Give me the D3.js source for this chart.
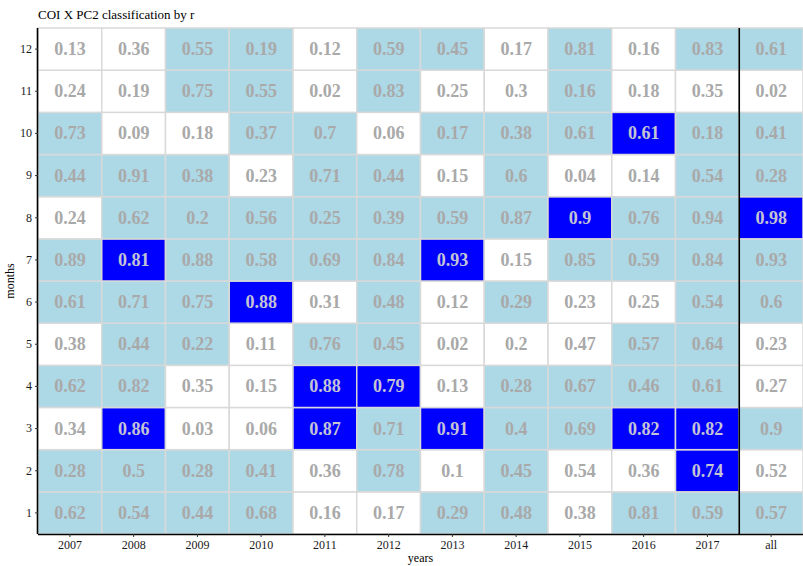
<!DOCTYPE html>
<html><head><meta charset="utf-8">
<script src="https://cdn.jsdelivr.net/npm/d3@7"></script>
<style>body{margin:0;background:#fff;} svg{display:block;} svg text{font-family:"Liberation Serif","Times New Roman",Times,serif;}</style>
</head><body><svg id="c" width="803" height="566"></svg>
<script>
const years = ["2007","2008","2009","2010","2011","2012","2013","2014","2015","2016","2017","all"];
const months = ["1","2","3","4","5","6","7","8","9","10","11","12"];
// r values, one array per month (columns follow years)
const r1  = [0.62,0.54,0.44,0.68,0.16,0.17,0.29,0.48,0.38,0.81,0.59,0.57];
const r2  = [0.28,0.5,0.28,0.41,0.36,0.78,0.1,0.45,0.54,0.36,0.74,0.52];
const r3  = [0.34,0.86,0.03,0.06,0.87,0.71,0.91,0.4,0.69,0.82,0.82,0.9];
const r4  = [0.62,0.82,0.35,0.15,0.88,0.79,0.13,0.28,0.67,0.46,0.61,0.27];
const r5  = [0.38,0.44,0.22,0.11,0.76,0.45,0.02,0.2,0.47,0.57,0.64,0.23];
const r6  = [0.61,0.71,0.75,0.88,0.31,0.48,0.12,0.29,0.23,0.25,0.54,0.6];
const r7  = [0.89,0.81,0.88,0.58,0.69,0.84,0.93,0.15,0.85,0.59,0.84,0.93];
const r8  = [0.24,0.62,0.2,0.56,0.25,0.39,0.59,0.87,0.9,0.76,0.94,0.98];
const r9  = [0.44,0.91,0.38,0.23,0.71,0.44,0.15,0.6,0.04,0.14,0.54,0.28];
const r10 = [0.73,0.09,0.18,0.37,0.7,0.06,0.17,0.38,0.61,0.61,0.18,0.41];
const r11 = [0.24,0.19,0.75,0.55,0.02,0.83,0.25,0.3,0.16,0.18,0.35,0.02];
const r12 = [0.13,0.36,0.55,0.19,0.12,0.59,0.45,0.17,0.81,0.16,0.83,0.61];
// classification: 0 = none, 1 = light, 2 = strong
const c1  = [1,1,1,1,0,0,1,1,0,1,1,1];
const c2  = [1,1,1,1,0,1,0,1,0,0,2,0];
const c3  = [0,2,0,0,2,1,2,1,1,2,2,1];
const c4  = [1,1,0,0,2,2,0,1,1,1,1,0];
const c5  = [0,1,1,0,1,1,0,0,0,1,1,0];
const c6  = [1,1,1,2,0,1,0,1,0,0,1,1];
const c7  = [1,2,1,1,1,1,2,0,1,1,1,1];
const c8  = [0,1,1,1,1,1,1,1,2,1,1,2];
const c9  = [1,1,1,0,1,1,0,1,0,0,1,1];
const c10 = [1,0,0,1,1,0,1,1,1,2,1,1];
const c11 = [0,0,1,1,0,1,0,0,1,0,0,0];
const c12 = [0,0,1,1,0,1,1,0,1,0,1,1];
const classColors = ["#ffffff","#add8e6","#0000ff"];

const rVals = [r1,r2,r3,r4,r5,r6,r7,r8,r9,r10,r11,r12];
const cVals = [c1,c2,c3,c4,c5,c6,c7,c8,c9,c10,c11,c12];
const data = [];
months.forEach((m,i)=>years.forEach((y,j)=>data.push({m,y,r:rVals[i][j],c:cVals[i][j]})));

const svg = d3.select("#c");
const L=38, T=28, R=803, B=534;
const x = d3.scaleBand().domain(years).range([L,R]);
const y = d3.scaleBand().domain(months.slice().reverse()).range([T,B]);

svg.append("g").selectAll("rect").data(data).join("rect")
  .attr("x",d=>x(d.y)).attr("y",d=>y(d.m))
  .attr("width",x.bandwidth()).attr("height",y.bandwidth())
  .attr("fill",d=>classColors[d.c])
  .attr("stroke","#d9d9d9").attr("stroke-width",1.5);

svg.append("g").selectAll("text").data(data).join("text")
  .attr("x",d=>x(d.y)+x.bandwidth()/2).attr("y",d=>y(d.m)+y.bandwidth()/2+6)
  .attr("text-anchor","middle")
  .attr("font-weight","bold").attr("font-size",18)
  .attr("fill",d=>d.c===2?"#c4c4d4":"#a9a9a9")
  .text(d=>d.r);

// separator line before "all"
svg.append("line").attr("x1",x("all")).attr("x2",x("all")).attr("y1",T).attr("y2",B)
  .attr("stroke","#000").attr("stroke-width",1.6);

const ax = svg.append("g").attr("transform",`translate(0,${B})`).call(d3.axisBottom(x).tickSize(3).tickPadding(3));
const ay = svg.append("g").attr("transform",`translate(${L},0)`).call(d3.axisLeft(y).tickSize(3).tickPadding(3));
[ax,ay].forEach(a=>{
  a.selectAll("text").attr("font-family",null).attr("font-size",12).attr("fill","#1a1a1a");
  a.selectAll("line").attr("stroke","#333");
  a.select(".domain").attr("stroke","#000").attr("stroke-width",1.6);
});
ax.attr("font-family",null); ay.attr("font-family",null);
ax.select(".domain").attr("d",`M${L},0.5H${R}`);
ay.select(".domain").attr("d",`M-0.5,${T}V${B}`);

svg.append("text").attr("x",L).attr("y",19).attr("font-size",13).attr("fill","#000")
  .text("COI X PC2 classification by r");
svg.append("text").attr("x",(L+R)/2).attr("y",562).attr("text-anchor","middle")
  .attr("font-size",12).text("years");
svg.append("text").attr("transform",`translate(14,${(T+B)/2}) rotate(-90)`).attr("text-anchor","middle")
  .attr("font-size",12).text("months");
</script></body></html>
